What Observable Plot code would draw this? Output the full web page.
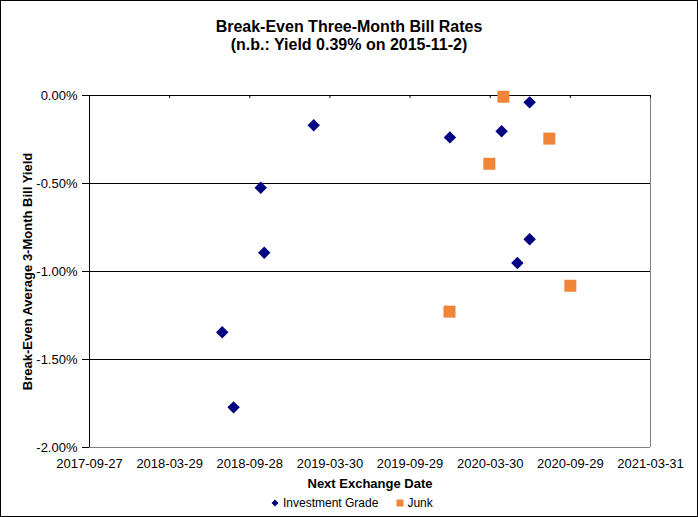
<!DOCTYPE html>
<html>
<head>
<meta charset="utf-8">
<script src="https://cdn.jsdelivr.net/npm/d3@7"></script>
<script src="https://cdn.jsdelivr.net/npm/@observablehq/plot@0.6"></script>
<style>
  html, body { margin: 0; padding: 0; background: #fff; }
  #wrap { position: relative; width: 698px; height: 517px; background: #fff; overflow: hidden;
          font-family: Arial, "Liberation Sans", sans-serif; color: #000; }
  #border { position: absolute; left: 0; top: 0; width: 698px; height: 517px; box-sizing: border-box;
            border: 1px solid #000; pointer-events: none; z-index: 5; }
  #chart { position: absolute; left: 0; top: 0; }
  .title { position: absolute; left: 0; width: 698px; text-align: center; font-weight: bold;
           font-size: 16px; line-height: 18px; }
  #legend { position: absolute; left: 271px; top: 496px; display: flex; align-items: center;
            font-size: 12px; line-height: 14px; white-space: nowrap; }
  #legend svg { display: block; }
</style>
</head>
<body>
<div id="wrap">
  <div class="title" id="t1" style="top:18px"></div>
  <div class="title" id="t2" style="top:36px"></div>
  <div id="chart"></div>
  <div id="legend"></div>
  <div id="border"></div>
</div>
<script>
// ---- Data ----
const titleLines = ["Break-Even Three-Month Bill Rates", "(n.b.: Yield 0.39% on 2015-11-2)"];
const yLabel = "Break-Even Average 3-Month Bill Yield";
const xLabel = "Next Exchange Date";
const seriesNames = ["Investment Grade", "Junk"];

const xTickLabels = ["2017-09-27", "2018-03-29", "2018-09-28", "2019-03-30",
                     "2019-09-29", "2020-03-30", "2020-09-29", "2021-03-31"];
const yTicks = [0, -0.5, -1, -1.5, -2];   // percent

const igDates  = ["2018-07-27", "2018-08-22", "2018-10-23", "2018-10-31", "2019-02-21",
                  "2019-12-29", "2020-04-25", "2020-05-31", "2020-06-28", "2020-06-28"];
const igYields = [-1.345, -1.772, -0.524, -0.893, -0.169,
                  -0.238, -0.203, -0.952, -0.039, -0.817];

const junkDates  = ["2019-12-28", "2020-03-28", "2020-04-29", "2020-08-12", "2020-09-29"];
const junkYields = [-1.228, -0.388, -0.007, -0.245, -1.081];

// ---- Build ----
const parse = d3.utcParse("%Y-%m-%d");
const fmtDate = d3.utcFormat("%Y-%m-%d");
const xTicks = xTickLabels.map(parse);
const ig = igDates.map((d, i) => ({date: parse(d), y: igYields[i], series: seriesNames[0]}));
const junk = junkDates.map((d, i) => ({date: parse(d), y: junkYields[i], series: seriesNames[1]}));

const navy = "#000080";
const orange = "#F08538";
const fontFam = "Arial, 'Liberation Sans', sans-serif";

document.getElementById("t1").textContent = titleLines[0];
document.getElementById("t2").textContent = titleLines[1];

const chart = Plot.plot({
  width: 698,
  height: 517,
  marginLeft: 89,
  marginRight: 48,
  marginTop: 95,
  marginBottom: 70,
  style: {background: "transparent", fontFamily: fontFam, fontSize: "13px", color: "#000", overflow: "visible"},
  x: {type: "utc", domain: [xTicks[0], xTicks[xTicks.length - 1]]},
  y: {domain: [d3.min(yTicks), d3.max(yTicks)]},
  marks: [
    Plot.ruleY(yTicks.filter(v => v > d3.min(yTicks)), {stroke: "#000", strokeWidth: 1}),
    Plot.ruleY([d3.min(yTicks)], {stroke: "#808080", strokeWidth: 1}),
    Plot.ruleX([xTicks[xTicks.length - 1]], {stroke: "#808080", strokeWidth: 1}),
    Plot.ruleX([xTicks[0]], {stroke: "#000", strokeWidth: 1}),
    Plot.axisY({ticks: yTicks, tickSize: 7, tickPadding: 5, label: null,
                tickFormat: d => (d === 0 ? 0 : d).toFixed(2) + "%"}),
    Plot.axisX({anchor: "bottom", ticks: xTicks, tickSize: 0, tickPadding: 11, label: null,
                tickFormat: fmtDate}),
    // short tick marks hanging below the 0% axis line
    Plot.tickX(xTicks, {x: d => d, stroke: "#000", insetBottom: 349}),
    Plot.dot(ig, {x: "date", y: "y", symbol: "diamond2", r: 5.6, fill: navy, stroke: "none"}),
    Plot.dot(junk, {x: "date", y: "y", symbol: "square", r: 6.77, fill: orange, stroke: "none"}),
    Plot.text([yLabel], {frameAnchor: "left", textAnchor: "middle", lineAnchor: "middle",
                         dx: -61.5, rotate: -90, fontWeight: "bold", fontSize: 13, fill: "#000"}),
    Plot.text([xLabel], {frameAnchor: "bottom", textAnchor: "middle", lineAnchor: "middle",
                         dy: 36, fontWeight: "bold", fontSize: 13, fill: "#000"})
  ]
});
document.getElementById("chart").appendChild(chart);

// ---- Legend ----
const legend = document.getElementById("legend");
function addItem(name, shape, gapBefore) {
  const ns = "http://www.w3.org/2000/svg";
  const s = document.createElementNS(ns, "svg");
  s.setAttribute("width", 8); s.setAttribute("height", 8);
  s.style.marginLeft = gapBefore + "px";
  if (shape === "diamond") {
    const p = document.createElementNS(ns, "polygon");
    p.setAttribute("points", "4,0.5 7.5,4 4,7.5 0.5,4");
    p.setAttribute("fill", navy);
    s.appendChild(p);
  } else {
    const r = document.createElementNS(ns, "rect");
    r.setAttribute("x", 0.5); r.setAttribute("y", 0.5);
    r.setAttribute("width", 7); r.setAttribute("height", 7);
    r.setAttribute("fill", orange);
    s.appendChild(r);
  }
  legend.appendChild(s);
  const t = document.createElement("span");
  t.textContent = name;
  t.style.marginLeft = (shape === "diamond" ? 4 : 3) + "px";
  legend.appendChild(t);
}
addItem(seriesNames[0], "diamond", 0);
addItem(seriesNames[1], "square", 18);
</script>
</body>
</html>
